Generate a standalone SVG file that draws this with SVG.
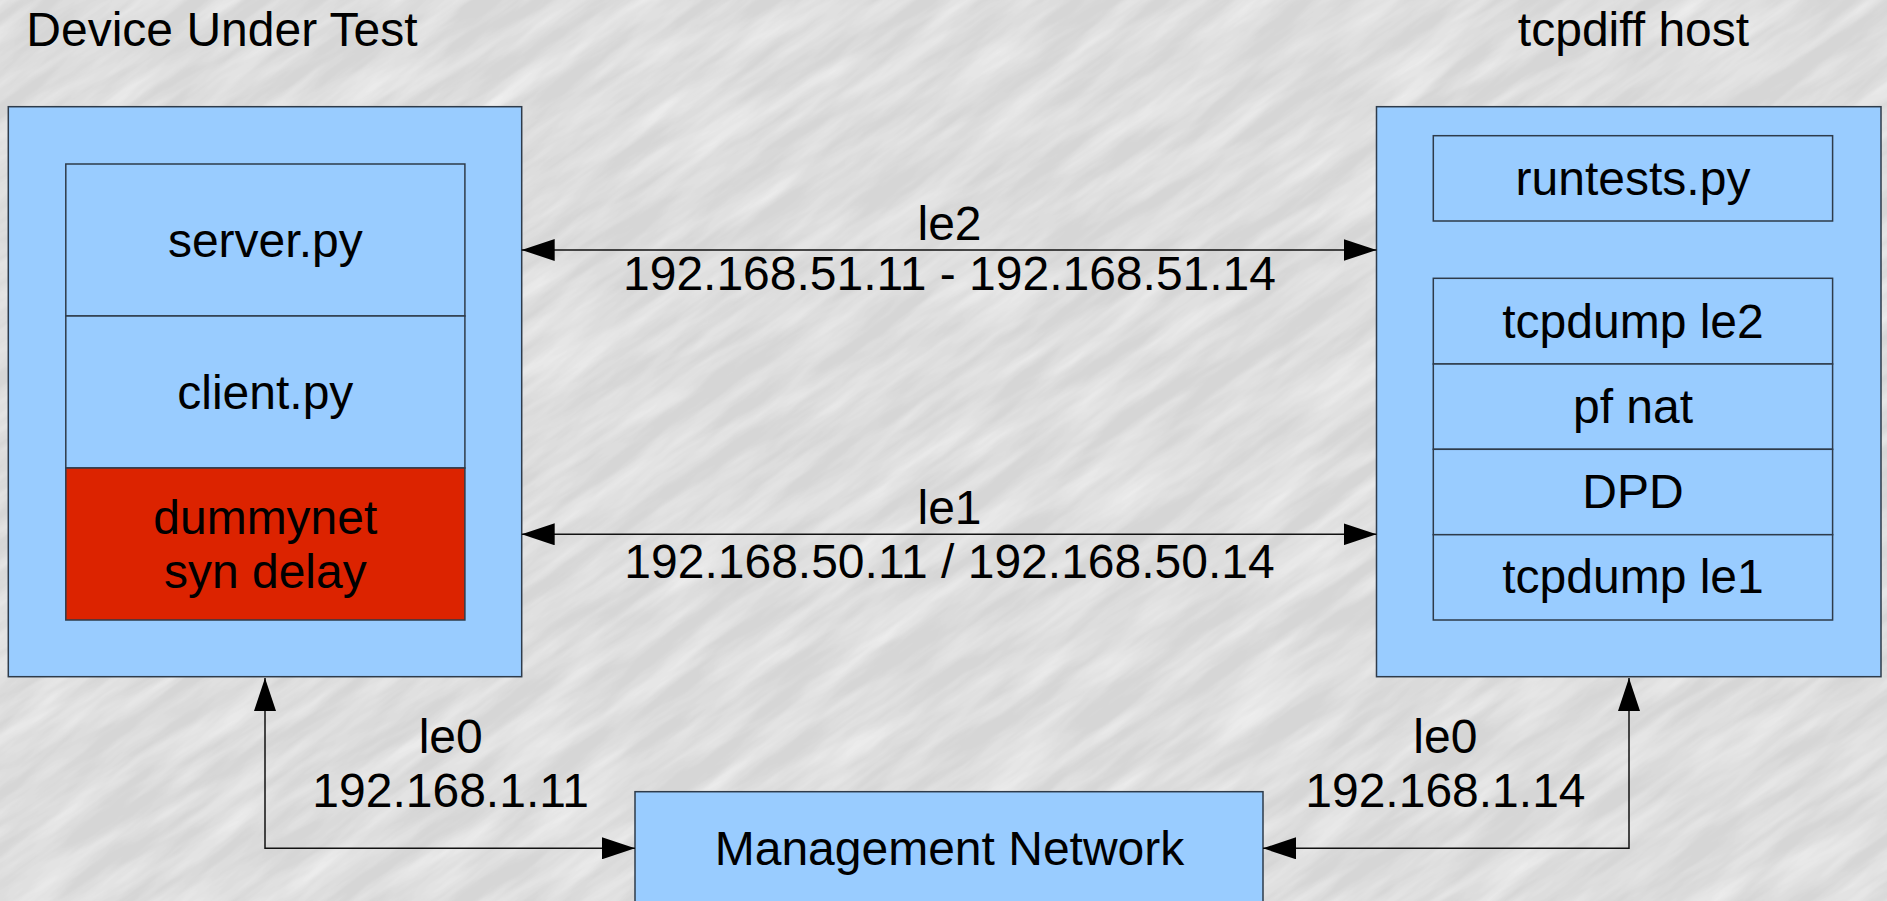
<svg xmlns="http://www.w3.org/2000/svg" width="1887" height="901" viewBox="0 0 1887 901">
<style>
text{font-family:"Liberation Sans",Arial,sans-serif;font-size:48px;fill:#000;text-anchor:middle}
.box{fill:#99ccff;stroke:#2e3b4a;stroke-width:1.5}
.red{fill:#dc2300;stroke:#2e3b4a;stroke-width:1.5}
.conn{fill:none;stroke:#111;stroke-width:1.5}
</style>
<defs>
<marker id="ah" markerUnits="userSpaceOnUse" markerWidth="34" markerHeight="22" refX="33" refY="11" orient="auto-start-reverse">
<path d="M0,0 L33,11 L0,22 z" fill="#000"/>
</marker>
<filter id="marble" x="0" y="0" width="100%" height="100%">
<feTurbulence type="fractalNoise" baseFrequency="0.008 0.05" numOctaves="4" seed="7" result="n"/>
<feColorMatrix type="matrix" values="0 0 0 0 0  0 0 0 0 0  0 0 0 0 0  1.1 0 0 0 -0.35" result="a"/>
<feFlood flood-color="#ffffff"/>
<feComposite in2="a" operator="in"/>
</filter>
</defs>
<g id="background">
<rect x="0" y="0" width="1887" height="901" fill="#d6d6d6"/>
<g transform="rotate(-35 943 450)">
<rect x="-500" y="-700" width="2900" height="2300" filter="url(#marble)" opacity="0.9"/>
</g>
</g>
<g id="titles">
<text x="222" y="45.7">Device Under Test</text>
<text x="1633.5" y="45.7">tcpdiff host</text>
</g>
<g id="dut">
<rect class="box" x="8.3" y="106.7" width="513.4" height="570"/>
<rect class="box" x="65.8" y="164" width="399.1" height="152"/>
<text x="265.3" y="256.7">server.py</text>
<rect class="box" x="65.8" y="316" width="399.1" height="152"/>
<text x="265.3" y="409.3">client.py</text>
<rect class="red" x="65.8" y="468" width="399.1" height="152"/>
<text x="265.3" y="534">dummynet</text>
<text x="265.3" y="588.3">syn delay</text>
</g>
<g id="host">
<rect class="box" x="1376.5" y="106.7" width="504.5" height="570"/>
<rect class="box" x="1433.3" y="135.7" width="399.3" height="85.3"/>
<text x="1633" y="195">runtests.py</text>
<rect class="box" x="1433.3" y="278.3" width="399.3" height="85.7"/>
<text x="1633" y="338.3">tcpdump le2</text>
<rect class="box" x="1433.3" y="364" width="399.3" height="85.3"/>
<text x="1633" y="422.7">pf nat</text>
<rect class="box" x="1433.3" y="449.3" width="399.3" height="85.4"/>
<text x="1633" y="508.3">DPD</text>
<rect class="box" x="1433.3" y="534.7" width="399.3" height="85.3"/>
<text x="1633" y="592.7">tcpdump le1</text>
</g>
<g id="mgmt">
<rect class="box" x="635" y="791.7" width="628" height="120"/>
<text x="949.5" y="865">Management Network</text>
</g>
<g id="connectors">
<line class="conn" x1="521.7" y1="250" x2="1376.5" y2="250" marker-start="url(#ah)" marker-end="url(#ah)"/>
<line class="conn" x1="521.7" y1="534.3" x2="1376.5" y2="534.3" marker-start="url(#ah)" marker-end="url(#ah)"/>
<path class="conn" d="M265,678 L265,848.3 L635,848.3" marker-start="url(#ah)" marker-end="url(#ah)"/>
<path class="conn" d="M1629,678 L1629,848.3 L1263,848.3" marker-start="url(#ah)" marker-end="url(#ah)"/>
</g>
<g id="labels">
<text x="949.5" y="240">le2</text>
<text x="949.5" y="290">192.168.51.11 - 192.168.51.14</text>
<text x="949.5" y="524.3">le1</text>
<text x="949.5" y="577.7">192.168.50.11 / 192.168.50.14</text>
<text x="450.7" y="753.3">le0</text>
<text x="450.7" y="806.7">192.168.1.11</text>
<text x="1445.4" y="753.3">le0</text>
<text x="1445.4" y="806.7">192.168.1.14</text>
</g>
</svg>
